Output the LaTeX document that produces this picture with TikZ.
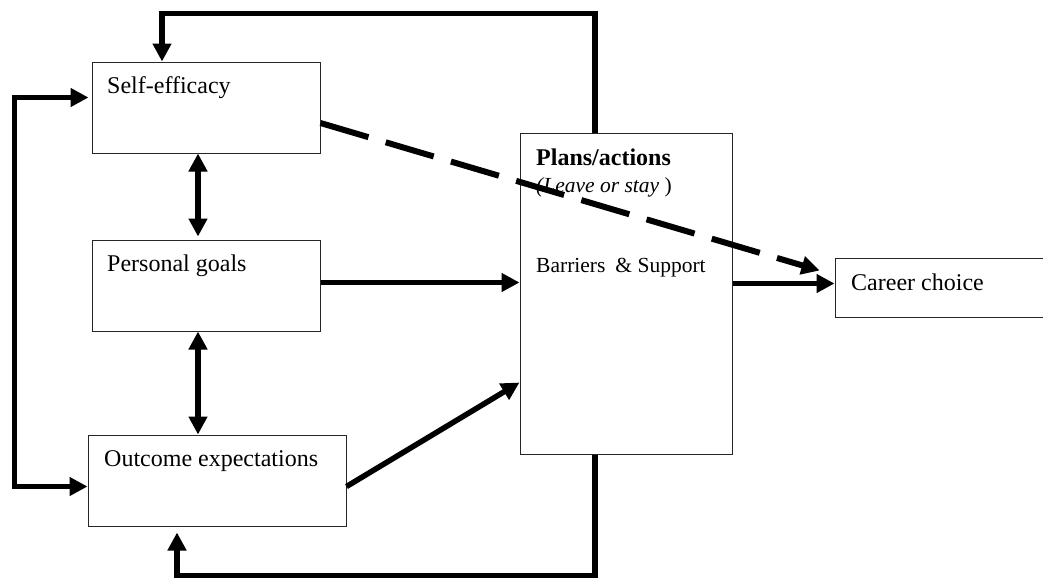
\documentclass[tikz,border=0pt]{standalone}
\usepackage{fontspec}
\setmainfont{Liberation Serif}
\usetikzlibrary{arrows.meta}

\begin{document}
\begin{tikzpicture}[x=1pt,y=1pt]
\tikzstyle{every node}+=[inner sep=0pt,font=\fontsize{24}{28}\selectfont]
\tikzstyle{box}=[draw=black!85,line width=1pt,rectangle]
\tikzstyle{txt}=[anchor=base west]
\tikzstyle{small}=[font=\fontsize{21.5}{25}\selectfont]
\tikzstyle{link}=[black,line width=5.5pt,-{Triangle[length=18pt,width=18pt]}]
\tikzstyle{both}=[black,line width=5.5pt,{Triangle[length=18pt,width=18pt]}-{Triangle[length=18pt,width=18pt]}]
\useasboundingbox (0,0) rectangle (1043,-579);
\node [box,minimum width=228pt,minimum height=91pt] (selfeff) at (206,-107.5) {};
\node [box,minimum width=228pt,minimum height=91pt] (goals) at (206,-285.5) {};
\node [box,minimum width=258pt,minimum height=91pt] (outcome) at (217,-480.5) {};
\node [box,minimum width=212pt,minimum height=321pt] (plans) at (626,-293.5) {};
\node [box,minimum width=225pt,minimum height=59pt] (career) at (947.5,-287.5) {};
\node [txt] (selfefftxt) at (107,-93) {Self-efficacy};
\node [txt] (goalstxt) at (107,-271) {Personal goals};
\node [txt] (outcometxt) at (104,-466) {Outcome expectations};
\node [txt] (planstxt) at (536,-165) {\textbf{Plans/actions}};
\node [txt,small] (leavetxt) at (536,-192) {\textit{(Leave or stay })};
\node [txt,small] (barrierstxt) at (536,-272) {Barriers\hspace{10pt}\& Support};
\node [txt] (careertxt) at (851,-290) {Career choice};
\draw [link] ([xshift=-31pt]plans.north) -- ++(0,119) -| ([xshift=-44pt]selfeff.north);
\draw [link] ([xshift=-31pt]plans.south) -- ++(0,-121) -| ([xshift=-40pt,yshift=-6pt]outcome.south);
\draw [both] ([xshift=-3pt,yshift=10pt]selfeff.west) -- ++(-74,0) |- ([yshift=-6pt]outcome.west);
\draw [both] ([xshift=-8pt]selfeff.south) -- ([xshift=-8pt,yshift=3pt]goals.north);
\draw [both] ([xshift=-8pt]goals.south) -- ([xshift=-8pt]goals.south |- outcome.north);
\draw [link] ([yshift=3pt]goals.east) -- ([yshift=3pt]goals.east -| plans.west);
\draw [link] ([yshift=-6pt]outcome.east) -- ([yshift=-89pt]plans.west);
\draw [link] ([yshift=10pt]plans.east) -- ([yshift=10pt]plans.east -| career.west);
\draw [link,line width=6pt,dash pattern=on 50pt off 18pt] ([yshift=-15.5pt]selfeff.east) -- ([xshift=-15pt,yshift=17pt]career.west);
\end{tikzpicture}
\end{document}
